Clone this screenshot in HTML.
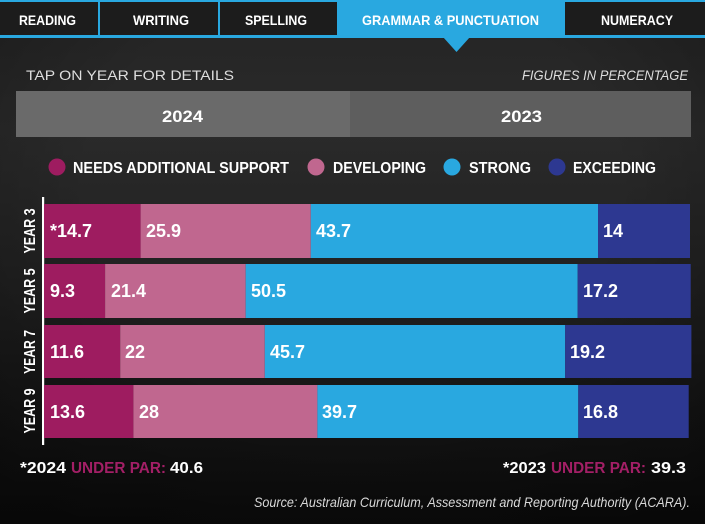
<!DOCTYPE html>
<html><head><meta charset="utf-8"><style>
html,body{margin:0;padding:0;background:#1a1a1a;}
svg{display:block;}
text{font-family:"Liberation Sans",sans-serif;}
</style></head><body>
<svg width="705" height="524" viewBox="0 0 705 524" xmlns="http://www.w3.org/2000/svg">
<defs>
<linearGradient id="bg" x1="0" y1="0" x2="0" y2="1">
<stop offset="0" stop-color="#242424"/>
<stop offset="0.25" stop-color="#2a2a2a"/>
<stop offset="0.55" stop-color="#202020"/>
<stop offset="0.82" stop-color="#141414"/>
<stop offset="1" stop-color="#0c0c0c"/>
</linearGradient>
<radialGradient id="vig" cx="0.5" cy="0.35" r="0.75">
<stop offset="0.5" stop-color="#000" stop-opacity="0"/>
<stop offset="1" stop-color="#000" stop-opacity="0.35"/>
</radialGradient>
</defs>
<rect width="705" height="524" fill="url(#bg)"/>
<rect width="705" height="524" fill="url(#vig)"/>

<!-- tabs -->
<rect x="0" y="0" width="705" height="2" fill="#29a8e0"/>
<rect x="0" y="2" width="705" height="33" fill="#1c1c1c"/>
<rect x="0" y="35" width="705" height="3" fill="#29a8e0"/>
<rect x="98" y="2" width="2" height="33" fill="#29a8e0"/>
<rect x="218" y="2" width="2" height="33" fill="#29a8e0"/>
<rect x="337" y="0" width="228" height="38" fill="#29a8e0"/>
<polygon points="443,37 470,37 456.5,52" fill="#29a8e0"/>
<g fill="#fff" font-weight="bold" font-size="14">
<text x="19" y="25" textLength="57" lengthAdjust="spacingAndGlyphs">READING</text>
<text x="133" y="25" textLength="56" lengthAdjust="spacingAndGlyphs">WRITING</text>
<text x="245" y="25" textLength="62" lengthAdjust="spacingAndGlyphs">SPELLING</text>
<text x="362" y="25" textLength="177" lengthAdjust="spacingAndGlyphs">GRAMMAR &amp; PUNCTUATION</text>
<text x="601" y="25" textLength="72" lengthAdjust="spacingAndGlyphs">NUMERACY</text>
</g>

<!-- sub header -->
<text x="26" y="80" font-size="14" fill="#dedede" textLength="208" lengthAdjust="spacingAndGlyphs">TAP ON YEAR FOR DETAILS</text>
<text x="522" y="80" font-size="14" font-style="italic" fill="#dedede" textLength="166" lengthAdjust="spacingAndGlyphs">FIGURES IN PERCENTAGE</text>

<!-- year toggle -->
<rect x="16" y="91" width="334" height="46" fill="#6a6a6a"/>
<rect x="350" y="91" width="341" height="46" fill="#5e5e5e"/>
<g fill="#fff" font-weight="bold" font-size="17">
<text x="162" y="122" textLength="41" lengthAdjust="spacingAndGlyphs">2024</text>
<text x="501" y="122" textLength="41" lengthAdjust="spacingAndGlyphs">2023</text>
</g>

<!-- legend -->
<circle cx="57" cy="167" r="8.5" fill="#9e1c60"/>
<circle cx="316" cy="167" r="8.5" fill="#c0678f"/>
<circle cx="452" cy="167" r="8.5" fill="#29a8e0"/>
<circle cx="557" cy="167" r="8.5" fill="#2d3891"/>
<g fill="#fff" font-weight="bold" font-size="16">
<text x="73" y="173" textLength="216" lengthAdjust="spacingAndGlyphs">NEEDS ADDITIONAL SUPPORT</text>
<text x="333" y="173" textLength="93" lengthAdjust="spacingAndGlyphs">DEVELOPING</text>
<text x="469" y="173" textLength="62" lengthAdjust="spacingAndGlyphs">STRONG</text>
<text x="573" y="173" textLength="83" lengthAdjust="spacingAndGlyphs">EXCEEDING</text>
</g>

<!-- axis -->
<rect x="42" y="197" width="2.2" height="248" fill="#fff"/>

<!-- bars -->
<!-- Year 3 -->
<rect x="44" y="204" width="96.6" height="54" fill="#9e1c60"/>
<rect x="140.6" y="204" width="170.2" height="54" fill="#c0678f"/>
<rect x="310.8" y="204" width="287.2" height="54" fill="#29a8e0"/>
<rect x="598" y="204" width="92" height="54" fill="#2d3891"/>
<!-- Year 5 -->
<rect x="44" y="264" width="61.1" height="54" fill="#9e1c60"/>
<rect x="105.1" y="264" width="140.6" height="54" fill="#c0678f"/>
<rect x="245.7" y="264" width="332" height="54" fill="#29a8e0"/>
<rect x="577.7" y="264" width="113" height="54" fill="#2d3891"/>
<!-- Year 7 -->
<rect x="44" y="325" width="76.2" height="53" fill="#9e1c60"/>
<rect x="120.2" y="325" width="144.6" height="53" fill="#c0678f"/>
<rect x="264.8" y="325" width="300.4" height="53" fill="#29a8e0"/>
<rect x="565.2" y="325" width="126.2" height="53" fill="#2d3891"/>
<!-- Year 9 -->
<rect x="44" y="385" width="89.4" height="53" fill="#9e1c60"/>
<rect x="133.4" y="385" width="184" height="53" fill="#c0678f"/>
<rect x="317.4" y="385" width="260.9" height="53" fill="#29a8e0"/>
<rect x="578.3" y="385" width="110.4" height="53" fill="#2d3891"/>

<g fill="#fff" font-weight="bold" font-size="18">
<text x="50" y="237">*14.7</text>
<text x="146" y="237">25.9</text>
<text x="316" y="237">43.7</text>
<text x="603" y="237">14</text>

<text x="50" y="297">9.3</text>
<text x="111" y="297">21.4</text>
<text x="251" y="297">50.5</text>
<text x="583" y="297">17.2</text>

<text x="50" y="358">11.6</text>
<text x="125" y="358">22</text>
<text x="270" y="358">45.7</text>
<text x="570" y="358">19.2</text>

<text x="50" y="418">13.6</text>
<text x="139" y="418">28</text>
<text x="322" y="418">39.7</text>
<text x="583" y="418">16.8</text>
</g>

<!-- year labels -->
<g fill="#fff" font-weight="bold" font-size="16" text-anchor="middle">
<text transform="translate(35,231) rotate(-90)" textLength="45" lengthAdjust="spacingAndGlyphs">YEAR 3</text>
<text transform="translate(35,291) rotate(-90)" textLength="45" lengthAdjust="spacingAndGlyphs">YEAR 5</text>
<text transform="translate(35,352) rotate(-90)" textLength="44" lengthAdjust="spacingAndGlyphs">YEAR 7</text>
<text transform="translate(35,411) rotate(-90)" textLength="45" lengthAdjust="spacingAndGlyphs">YEAR 9</text>
</g>

<!-- footer -->
<g font-weight="bold" font-size="16">
<text x="20" y="473" fill="#fff" textLength="46" lengthAdjust="spacingAndGlyphs">*2024</text>
<text x="71" y="473" fill="#a31f66" textLength="95" lengthAdjust="spacingAndGlyphs">UNDER PAR:</text>
<text x="170" y="473" fill="#fff" textLength="33" lengthAdjust="spacingAndGlyphs">40.6</text>
<text x="503" y="473" fill="#fff" textLength="43" lengthAdjust="spacingAndGlyphs">*2023</text>
<text x="551" y="473" fill="#a31f66" textLength="95" lengthAdjust="spacingAndGlyphs">UNDER PAR:</text>
<text x="651" y="473" fill="#fff" textLength="35" lengthAdjust="spacingAndGlyphs">39.3</text>
</g>
<text x="254" y="507" font-size="14" font-style="italic" fill="#d8d8d8" textLength="436" lengthAdjust="spacingAndGlyphs">Source: Australian Curriculum, Assessment and Reporting Authority (ACARA).</text>
</svg>
</body></html>
